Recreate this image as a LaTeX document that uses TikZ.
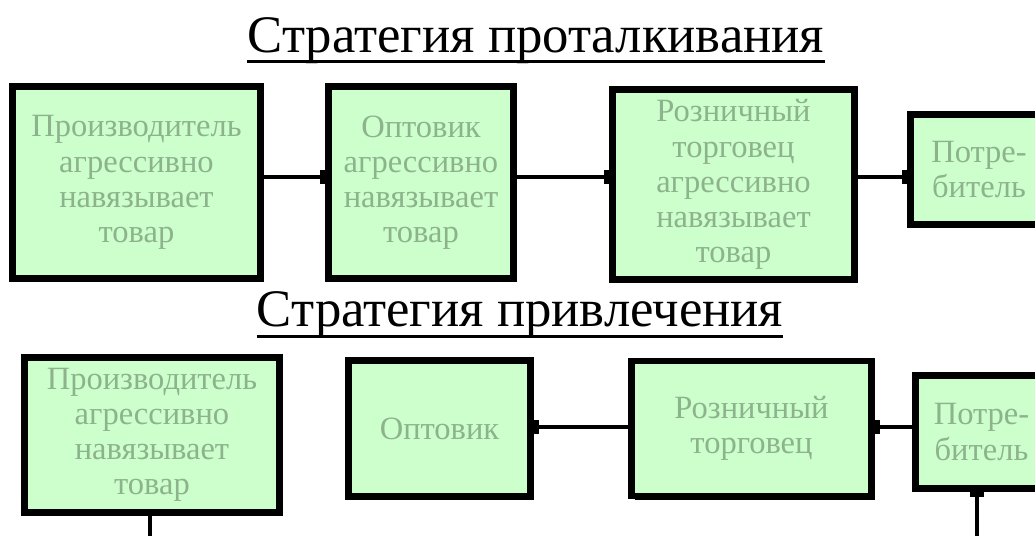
\documentclass[tikz,border=0pt]{standalone}
\usepackage{fontspec}
\setmainfont{Liberation Serif}
\usepackage{xcolor}
\usetikzlibrary{arrows.meta,shadows}
\definecolor{boxgreen}{HTML}{CCFFCC}
\definecolor{boxtext}{HTML}{8DB38D}

\begin{document}
\begin{tikzpicture}[
  box/.style={draw, line width=3.8pt, fill=boxgreen, text=boxtext, align=center,
    font=\fontsize{18.5}{20}\selectfont, inner sep=0pt,
    drop shadow={shadow xshift=2pt, shadow yshift=-2pt, opacity=1, fill=black}},
  heading/.style={font=\fontsize{30}{34}\selectfont, inner sep=0pt, anchor=base},
  uline/.style={line width=1.7pt},
  flow/.style={line width=2.8pt, -{Bar[width=8pt,line width=3pt]}},
  plain/.style={line width=2.8pt}
]
\useasboundingbox (0,0) rectangle (20.7,10.72);

% push strategy
\node[heading] (push) at (10.72,9.66) {Стратегия проталкивания};
\draw[uline] ([yshift=-1.8mm]push.base west) -- ([yshift=-1.8mm]push.base east);

\node[box, minimum width=4.95cm, minimum height=3.85cm] (prod1) at (2.73,7.07) {Производитель\\агрессивно\\навязывает\\товар};
\node[box, minimum width=3.7cm, minimum height=3.85cm] (whole1) at (8.42,7.07) {Оптовик\\агрессивно\\навязывает\\товар};
\node[box, minimum width=4.85cm, minimum height=3.8cm] (retail1) at (14.67,7.03) {Розничный\\торговец\\агрессивно\\навязывает\\товар};
\node[box, minimum width=2.75cm, minimum height=2.2cm] (cons1) at (19.58,7.33) {Потре-\\битель};

\coordinate (row1) at (0,7.18);
\draw[flow] (prod1.east |- row1) -- (whole1.west |- row1);
\draw[flow] (whole1.east |- row1) -- (retail1.west |- row1);
\draw[flow] (retail1.east |- row1) -- (cons1.west |- row1);

% pull strategy
\node[heading] (pull) at (10.4,4.18) {Стратегия привлечения};
\draw[uline] ([yshift=-1.9mm]pull.base west) -- ([yshift=-1.9mm]pull.base east);

\node[box, minimum width=5.1cm, minimum height=3.1cm] (prod2) at (3.04,2.02) {Производитель\\агрессивно\\навязывает\\товар};
\node[box, minimum width=3.65cm, minimum height=2.72cm] (whole2) at (8.79,2.15) {Оптовик};
\node[box, minimum width=4.8cm, minimum height=2.7cm] (retail2) at (15.03,2.15) {Розничный\\торговец};
\node[box, minimum width=2.65cm, minimum height=2.26cm] (cons2) at (19.63,2.08) {Потре-\\битель};

\coordinate (row2) at (0,2.18);
\draw[flow] (retail2.west |- row2) -- (whole2.east |- row2);
\draw[flow] (cons2.west |- row2) -- (retail2.east |- row2);

\coordinate (prodend) at (3.0,-0.1);
\coordinate (consstart) at (19.54,-0.1);
\draw[plain] (prodend |- prod2.south) -- (prodend);
\draw[flow] (consstart) -- (consstart |- cons2.south);
\end{tikzpicture}
\end{document}
